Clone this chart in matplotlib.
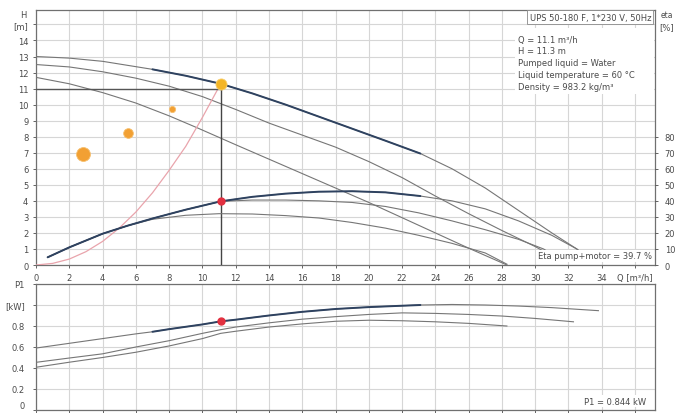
import matplotlib
matplotlib.use('Agg')
import matplotlib.pyplot as plt
from matplotlib.patches import Rectangle

# pump curves, Q in m3/h
# H curves (m)
q_a = [0, 2, 4, 7, 9, 11.1, 13, 15, 17, 19, 21, 23.1, 25, 27, 29, 31, 32.5, 33.2]
h_a = [13.0, 12.9, 12.7, 12.2, 11.8, 11.3, 10.7, 10.0, 9.25, 8.5, 7.75, 6.95, 6.0, 4.8, 3.4, 2.0, 1.0, 0.4]

q_b = [0, 2, 4, 6, 8, 10, 12, 14, 16, 18, 20, 22, 24, 26, 28, 30, 31.3]
h_b = [12.5, 12.35, 12.05, 11.65, 11.15, 10.5, 9.7, 8.85, 8.1, 7.35, 6.45, 5.45, 4.3, 3.2, 2.15, 1.15, 0.4]

q_c = [0, 2, 4, 6, 8, 9.7, 12, 14, 16, 18, 20, 22, 24, 26, 28.3]
h_c = [11.7, 11.3, 10.75, 10.1, 9.3, 8.55, 7.5, 6.6, 5.7, 4.8, 3.9, 2.95, 2.0, 1.05, 0.0]

# efficiency curves (%)
q_e1 = [0.7, 2, 4, 5.5, 7, 9, 11.1, 13, 15, 17, 19, 21, 23.1, 25, 27, 29, 31, 32.5, 33.2]
e1 = [4.8, 11, 19.5, 24.5, 29, 34.5, 39.7, 42.5, 44.5, 45.7, 46, 45.3, 43, 40, 35, 27.5, 18.5, 10, 4]

q_e2 = [0.7, 2, 4, 5.5, 7, 9, 11.1, 13, 15, 17, 19, 21, 23, 25, 27, 29, 30.5, 31.3]
e2 = [4.8, 11, 19.5, 24.5, 29, 34.5, 39.7, 40.5, 40.5, 40, 39, 36.5, 32.5, 27.5, 22, 16, 10, 5]

q_e3 = [0.7, 2, 4, 5.5, 7, 9, 11, 13, 15, 17, 19, 21, 23, 25, 27, 28.3]
e3 = [4.8, 11, 19.5, 24.5, 28.5, 31, 32, 31.8, 30.8, 29.3, 26.5, 23, 18.5, 13.5, 7.5, 0.5]

# P1 curves (kW)
q_pa = [0, 2, 4, 6, 7, 8, 10, 11.1, 12, 14, 16, 18, 20, 22, 23.1, 25, 27, 29, 31, 33.8]
p_a = [0.59, 0.635, 0.68, 0.725, 0.745, 0.77, 0.815, 0.844, 0.86, 0.9, 0.935, 0.962, 0.98, 0.993, 1.0, 1.005, 1.0, 0.99, 0.975, 0.946]

q_pb = [0, 2, 4, 6, 8, 10, 11.1, 12, 14, 16, 18, 20, 22, 24, 26, 28, 30, 32.3]
p_b = [0.454, 0.495, 0.535, 0.6, 0.66, 0.73, 0.765, 0.79, 0.83, 0.865, 0.889, 0.91, 0.925, 0.92, 0.91, 0.895, 0.872, 0.84]

q_pc = [0, 2, 4, 6, 8, 10, 11.1, 12, 14, 16, 18, 20, 22, 24, 26, 28.3]
p_c = [0.407, 0.455, 0.5, 0.55, 0.61, 0.68, 0.73, 0.75, 0.79, 0.82, 0.845, 0.855, 0.85, 0.84, 0.825, 0.80]

# system curve and duty point
q_sys = [0, 1, 2, 3, 4, 5, 6, 7, 8, 9, 10, 11.1]
h_sys = [0, 0.1, 0.37, 0.83, 1.47, 2.3, 3.3, 4.5, 5.9, 7.4, 9.2, 11.3]
q_duty, h_duty, eta_duty, p1_duty = 11.1, 11.3, 39.7, 0.844
h_ref = 11.0

# orange markers
q_dots = [2.8, 5.5, 8.2]
h_dots = [6.9, 8.2, 9.7]

info_lines = ['Q = 11.1 m\u00b3/h', 'H = 11.3 m', 'Pumped liquid = Water',
              'Liquid temperature = 60 \u00b0C', 'Density = 983.2 kg/m\u00b3']

BOLD = (7, 23.1)
thin_c = '#767676'
bold_c = '#2e4260'
grid_c = '#d6d6d6'
txt_c = '#4a4a4a'
W, H = 677, 414

plt.rcParams['font.family'] = ['DejaVu Sans']
fig = plt.figure(figsize=(W / 100, H / 100), dpi=100)

ax = fig.add_axes([36 / W, 148 / H, 619 / W, 255 / H])
ax2 = fig.add_axes([36 / W, 3 / H, 619 / W, 126 / H])


def draw(axis, q, v, bold=None):
    axis.plot(q, v, color=thin_c, lw=0.8, zorder=3)
    if bold:
        qs = [x for x in q if bold[0] <= x <= bold[1]]
        vs = [y for x, y in zip(q, v) if bold[0] <= x <= bold[1]]
        axis.plot(qs, vs, color=bold_c, lw=1.4, zorder=4, solid_capstyle='round')


for a in (ax, ax2):
    a.set_xlim(0, 37.2)
    a.set_xticks(range(0, 38, 2))
    a.grid(color=grid_c, lw=0.8, zorder=0)
    a.set_axisbelow(True)
    for s in a.spines.values():
        s.set_color('#707070')
        s.set_linewidth(0.9)
    a.tick_params(labelsize=6, colors=txt_c, length=2, width=0.6)

# top chart
ax.set_ylim(0, 15.9)
ax.set_yticks(range(0, 16))
ax.set_yticklabels([str(i) for i in range(15)] + ['[m]'])
ax.set_xticklabels([str(i) for i in range(0, 36, 2)] + ['Q [m\u00b3/h]'])

axe = ax.twinx()
axe.set_ylim(0, 159)
axe.set_yticks(range(0, 90, 10))
axe.tick_params(labelsize=6, colors=txt_c, length=2, width=0.6, pad=5)
for s in axe.spines.values():
    s.set_visible(False)

draw(ax, q_c, h_c)
draw(ax, q_b, h_b)
draw(ax, q_a, h_a, bold=BOLD)
draw(axe, q_e3, e3)
draw(axe, q_e2, e2)
draw(axe, q_e1, e1, bold=(0, BOLD[1]))

ax.plot(q_sys, h_sys, color='#e9a4ac', lw=0.9, zorder=3)
ax.plot([0, q_duty], [h_ref, h_ref], color='#555555', lw=1.0, zorder=3)
ax.plot([q_duty, q_duty], [0, h_duty], color='#444444', lw=1.0, zorder=3)

for q, h, ms in zip(q_dots, h_dots, [10, 7, 4.5]):
    ax.plot(q, h, 'o', color='#f2a033', mec='#f6c070', mew=0.6, ms=ms, zorder=5)
ax.plot(q_duty, h_duty, 'o', color='#f4b526', mec='#f8d070', mew=0.6, ms=8, zorder=6)
axe.plot(q_duty, eta_duty, 'o', color='#e23040', ms=5, zorder=6)

# info box top right
fig.text(651 / W, 1 - 18 / H, 'UPS 50-180 F, 1*230 V, 50Hz', ha='right', va='center',
         fontsize=6, color=txt_c,
         bbox=dict(boxstyle='square,pad=0.25', fc='white', ec='#888888', lw=0.6))
fig.patches.append(Rectangle((515 / W, 1 - 95 / H), 139 / W, 66 / H, transform=fig.transFigure,
                             fc='white', ec='none', zorder=2))
for i, line in enumerate(info_lines):
    fig.text(518 / W, 1 - (40 + 11.8 * i) / H, line, ha='left', va='center',
             fontsize=6, color=txt_c)

fig.text(652 / W, 1 - 257 / H, 'Eta pump+motor = 39.7 %', ha='right', va='center',
         fontsize=6, color=txt_c,
         bbox=dict(boxstyle='square,pad=0.2', fc='white', ec='none'))

fig.text(23 / W, 1 - 15 / H, 'H', ha='center', va='center', fontsize=6, color=txt_c)
fig.text(667 / W, 1 - 15 / H, 'eta', ha='center', va='center', fontsize=5.5, color=txt_c)
fig.text(667 / W, 1 - 28 / H, '[%]', ha='center', va='center', fontsize=6, color=txt_c)

# bottom chart
ax2.set_ylim(0, 1.2)
ax2.set_yticks([0, 0.2, 0.4, 0.6, 0.8, 1.0, 1.2])
ax2.set_yticklabels(['0', '0.2', '0.4', '0.6', '0.8', '[kW]', 'P1'])
ax2.tick_params(axis='y', pad=6)
ax2.get_yticklabels()[0].set_va('bottom')
ax2.set_xticklabels([])

draw(ax2, q_pc, p_c)
draw(ax2, q_pb, p_b)
draw(ax2, q_pa, p_a, bold=BOLD)
ax2.plot(q_duty, p1_duty, 'o', color='#e23040', ms=5, zorder=6)

ax2.text(0.985, 0.07, 'P1 = 0.844 kW', transform=ax2.transAxes, ha='right', va='center',
         fontsize=6, color=txt_c,
         bbox=dict(boxstyle='square,pad=0.2', fc='white', ec='none'))

fig.savefig('out.png', dpi=100)
